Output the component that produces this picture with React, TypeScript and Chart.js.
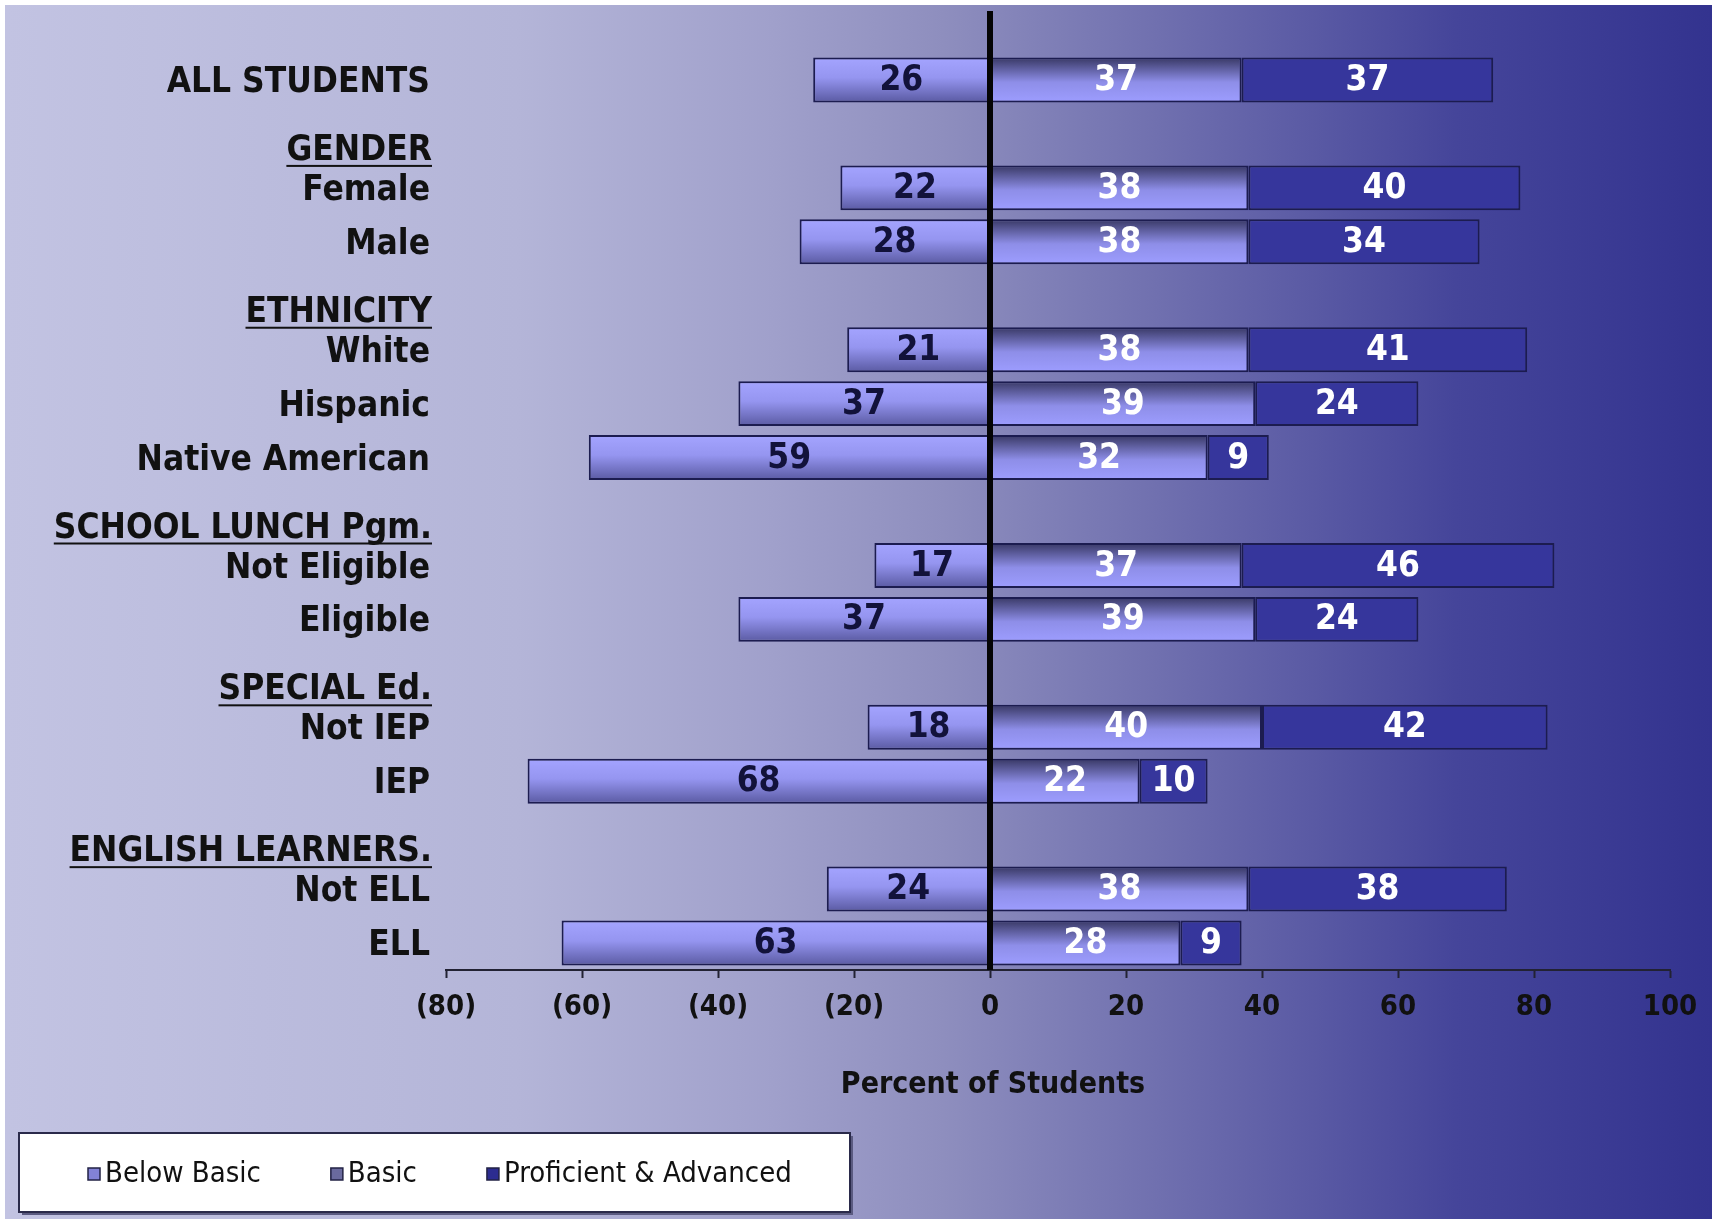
import React, { useEffect, useRef } from 'react';
import { Chart, registerables } from 'chart.js';

Chart.register(...registerables);

// ---------- data ----------
const categories = [
  'ALL STUDENTS',
  'GENDER', 'Female', 'Male',
  'ETHNICITY', 'White', 'Hispanic', 'Native American',
  'SCHOOL LUNCH Pgm.', 'Not Eligible', 'Eligible',
  'SPECIAL Ed.', 'Not IEP', 'IEP',
  'ENGLISH LEARNERS.', 'Not ELL', 'ELL',
];
const headerRows = ['GENDER', 'ETHNICITY', 'SCHOOL LUNCH Pgm.', 'SPECIAL Ed.', 'ENGLISH LEARNERS.'];

const belowBasic = [26, null, 22, 28, null, 21, 37, 59, null, 17, 37, null, 18, 68, null, 24, 63];
const basic = [37, null, 38, 38, null, 38, 39, 32, null, 37, 39, null, 40, 22, null, 38, 28];
const proficient = [37, null, 40, 34, null, 41, 24, 9, null, 46, 24, null, 42, 10, null, 38, 9];

const seriesNames = ['Below Basic', 'Basic', 'Proficient & Advanced'];
const xMin = -80;
const xMax = 100;
const xStep = 20;
const axisTitle = 'Percent of Students';

// ---------- styles ----------
const W = 1707;
const H = 1214;
const FONT = "'DejaVu Sans Condensed', 'DejaVu Sans', sans-serif";
const BAR_FRACTION = 0.833;

const belowStops: [number, string][] = [[0, '#a4a4ff'], [0.45, '#9595f0'], [1, '#5a5aa2']];
const basicStops: [number, string][] = [[0, '#383864'], [0.55, '#8e8ee8'], [1, '#9d9dff']];
const profColor = '#36369c';
const borderCol = '#1c1c50';

function gradFor(stops: [number, string][]) {
  return (context: any) => {
    const chart = context.chart;
    const y = chart.scales && chart.scales.y;
    if (!y || context.dataIndex == null) return stops[0][1];
    const c = y.getPixelForValue(context.dataIndex);
    const spacing = Math.abs(y.getPixelForValue(1) - y.getPixelForValue(0)) || 50;
    const half = (spacing * BAR_FRACTION) / 2;
    if (!isFinite(c)) return stops[0][1];
    const g = chart.ctx.createLinearGradient(0, c - half, 0, c + half);
    stops.forEach(([o, col]) => g.addColorStop(o, col));
    return g;
  };
}

const bgPlugin = {
  id: 'bgPlugin',
  beforeDraw(chart: any) {
    const ctx = chart.ctx;
    ctx.save();
    const g = ctx.createLinearGradient(0, 0, chart.width, 0);
    g.addColorStop(0, '#c2c3e2');
    g.addColorStop(0.3, '#b4b5d8');
    g.addColorStop(0.45, '#a0a0cb');
    g.addColorStop(0.55, '#8e8ebe');
    g.addColorStop(0.7, '#6a6aac');
    g.addColorStop(0.85, '#45459a');
    g.addColorStop(1, '#33338f');
    ctx.fillStyle = g;
    ctx.fillRect(0, 0, chart.width, chart.height);
    ctx.restore();
  },
  afterDatasetsDraw(chart: any) {
    const ctx = chart.ctx;
    const xs = chart.scales.x;
    const area = chart.chartArea;
    ctx.save();
    // zero line
    const zx = xs.getPixelForValue(0);
    ctx.fillStyle = '#050505';
    ctx.fillRect(zx - 3, 6, 6, area.bottom - 6);

    // value labels
    ctx.font = `bold 35px ${FONT}`;
    ctx.textAlign = 'center';
    ctx.textBaseline = 'middle';
    chart.data.datasets.forEach((ds: any, di: number) => {
      const meta = chart.getDatasetMeta(di);
      meta.data.forEach((el: any, i: number) => {
        const raw = ds.data[i];
        if (raw == null) return;
        const p = el.getProps(['x', 'y', 'base'], true);
        const cx = (p.x + p.base) / 2;
        ctx.fillStyle = di === 0 ? '#12123a' : '#ffffff';
        ctx.fillText(String(Math.abs(raw)), cx, p.y + 1);
      });
    });
    ctx.restore();
  },
  afterDraw(chart: any) {
    const ctx = chart.ctx;
    const ys = chart.scales.y;
    const xs = chart.scales.x;
    ctx.save();
    // header labels, underlined
    ctx.font = `bold 35px ${FONT}`;
    ctx.textAlign = 'right';
    ctx.textBaseline = 'middle';
    ctx.fillStyle = '#111111';
    const rx = ys.right - 14;
    headerRows.forEach((h) => {
      const idx = categories.indexOf(h);
      const y = ys.getPixelForValue(idx) + 17;
      ctx.fillText(h, rx, y);
      const w = ctx.measureText(h).width;
      ctx.fillRect(rx - w, y + 14, w, 2);
    });

    // axis title
    ctx.font = `bold 30px ${FONT}`;
    ctx.textAlign = 'center';
    ctx.fillText(axisTitle, xs.getPixelForValue(0) + 3, 1080);

    // legend box
    const bx = 14, by = 1128, bw = 831, bh = 79;
    ctx.fillStyle = '#5a5a80';
    ctx.fillRect(bx + 3, by + 3, bw, bh);
    ctx.fillStyle = '#ffffff';
    ctx.fillRect(bx, by, bw, bh);
    ctx.strokeStyle = '#2a2a4a';
    ctx.lineWidth = 2;
    ctx.strokeRect(bx, by, bw, bh);

    const markerFills = ['#8282d6', '#6a6a9e', '#2c2c90'];
    ctx.font = `29px ${FONT}`;
    ctx.textAlign = 'left';
    ctx.textBaseline = 'middle';
    let x = 83;
    const cy = by + 41;
    seriesNames.forEach((name, i) => {
      ctx.fillStyle = markerFills[i];
      ctx.fillRect(x, cy - 6, 12, 12);
      ctx.strokeStyle = '#222244';
      ctx.lineWidth = 1.5;
      ctx.strokeRect(x, cy - 6, 12, 12);
      ctx.fillStyle = '#111111';
      ctx.fillText(name, x + 17, cy);
      x += 17 + ctx.measureText(name).width + 70;
    });
    ctx.restore();
  },
};

export default function App() {
  const ref = useRef<HTMLCanvasElement | null>(null);
  useEffect(() => {
    if (!ref.current) return;
    const chart = new Chart(ref.current, {
      type: 'bar',
      data: {
        labels: categories,
        datasets: [
          {
            label: seriesNames[0],
            data: belowBasic.map((v) => (v == null ? null : -v)),
            backgroundColor: gradFor(belowStops),
          },
          {
            label: seriesNames[1],
            data: basic,
            backgroundColor: gradFor(basicStops),
          },
          {
            label: seriesNames[2],
            data: proficient,
            backgroundColor: profColor,
          },
        ] as any,
      },
      options: {
        indexAxis: 'y',
        animation: false,
        responsive: false,
        devicePixelRatio: 1,
        layout: { padding: { left: 0, right: 42, top: 48, bottom: 0 } },
        datasets: {
          bar: {
            barPercentage: 1,
            categoryPercentage: BAR_FRACTION,
            borderColor: borderCol,
            borderWidth: 2,
            borderSkipped: false,
          },
        } as any,
        plugins: {
          legend: { display: false },
          tooltip: { enabled: false },
        },
        scales: {
          x: {
            type: 'linear',
            stacked: true,
            min: xMin,
            max: xMax,
            afterFit: (s: any) => { s.height = 249; },
            ticks: {
              stepSize: xStep,
              autoSkip: false,
              maxRotation: 0,
              padding: 12,
              color: '#111111',
              font: { family: FONT, size: 29, weight: 'bold' },
              callback: (v: any) => (Number(v) < 0 ? `(${-Number(v)})` : `${v}`),
            },
            grid: {
              display: true,
              drawOnChartArea: false,
              drawTicks: true,
              tickLength: 8,
              tickColor: '#222233',
              tickWidth: 2,
            },
            border: { display: true, color: '#222233', width: 2 },
          },
          y: {
            type: 'category',
            stacked: true,
            afterFit: (s: any) => { s.width = 441; },
            ticks: {
              autoSkip: false,
              padding: 8,
              labelOffset: 3,
              color: '#111111',
              font: { family: FONT, size: 35, weight: 'bold' },
              callback: (_v: any, i: number) => (headerRows.includes(categories[i]) ? '' : categories[i]),
            },
            grid: { display: false },
            border: { display: false },
          },
        },
      } as any,
      plugins: [bgPlugin],
    });
    return () => chart.destroy();
  }, []);
  return (
    <div style={{ position: 'absolute', left: 5, top: 5, width: W, height: H }}>
      <canvas ref={ref} width={W} height={H} style={{ display: 'block', width: W, height: H }} />
    </div>
  );
}
